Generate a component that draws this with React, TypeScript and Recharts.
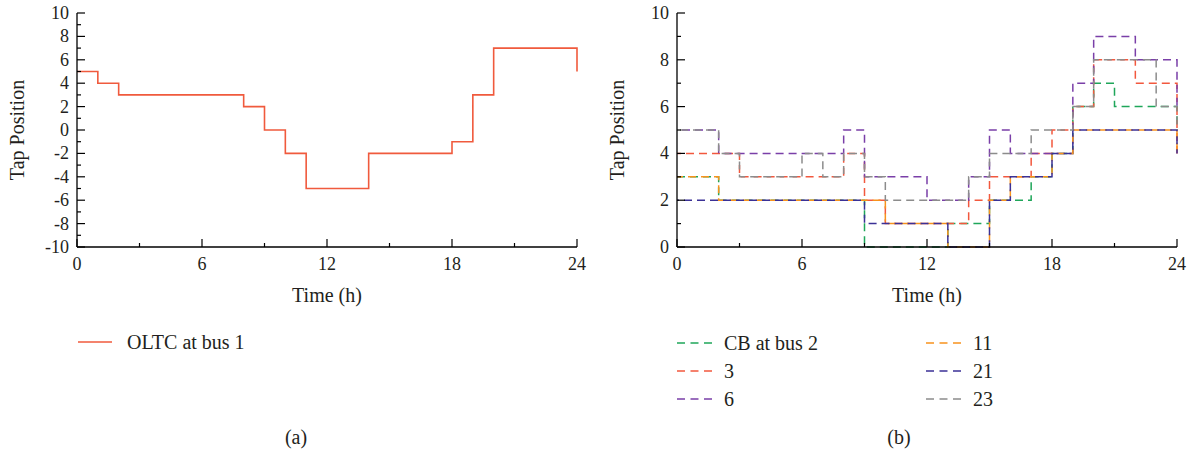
import React from 'react';
import { LineChart, Line, XAxis, YAxis } from 'recharts';

// Hour of day (h)
const HOURS = [0, 1, 2, 3, 4, 5, 6, 7, 8, 9, 10, 11, 12, 13, 14, 15, 16, 17, 18, 19, 20, 21, 22, 23, 24];

// (a) OLTC tap position
const OLTC_BUS1 = [5, 4, 3, 3, 3, 3, 3, 3, 2, 0, -2, -5, -5, -5, -2, -2, -2, -2, -1, 3, 7, 7, 7, 7, 5];

// (b) capacitor bank tap positions
const CB_BUS2 = [3, 3, 2, 2, 2, 2, 2, 2, 2, 0, 0, 0, 0, 1, 1, 2, 2, 3, 4, 6, 7, 6, 6, 6, 5];
const CB_BUS3 = [4, 4, 4, 3, 3, 3, 3, 3, 4, 2, 1, 1, 1, 1, 2, 3, 3, 4, 5, 6, 8, 8, 7, 7, 4];
const CB_BUS6 = [5, 5, 4, 4, 4, 4, 4, 4, 5, 3, 3, 3, 2, 2, 3, 5, 4, 4, 4, 7, 9, 9, 8, 8, 6];
const CB_BUS11 = [3, 3, 2, 2, 2, 2, 2, 2, 2, 2, 1, 1, 1, 0, 0, 2, 3, 3, 4, 5, 5, 5, 5, 5, 4];
const CB_BUS21 = [2, 2, 2, 2, 2, 2, 2, 2, 2, 1, 1, 1, 1, 0, 0, 2, 3, 3, 4, 5, 5, 5, 5, 5, 4];
const CB_BUS23 = [5, 5, 4, 3, 3, 3, 4, 3, 4, 3, 2, 2, 2, 2, 3, 4, 4, 5, 5, 6, 8, 8, 8, 6, 5];

// Axis ticks
const X_TICKS = [0, 3, 6, 9, 12, 15, 18, 21, 24];
const OLTC_Y_TICKS = [-10, -9, -8, -7, -6, -5, -4, -3, -2, -1, 0, 1, 2, 3, 4, 5, 6, 7, 8, 9, 10];
const CB_Y_TICKS = [0, 1, 2, 3, 4, 5, 6, 7, 8, 9, 10];

const FONT = '"Liberation Serif", "Times New Roman", Times, serif';
const INK = '#231f20';
const AXIS = '#000';

const oltcData = HOURS.map((t, i) => ({ t, oltc: OLTC_BUS1[i] }));

const CB_SERIES = [
  { key: 'b2', name: 'CB at bus 2', color: '#1fa65a', values: CB_BUS2, offset: 0 },
  { key: 'b3', name: '3', color: '#f2583e', values: CB_BUS3, offset: 4 },
  { key: 'b6', name: '6', color: '#7a3fa8', values: CB_BUS6, offset: 8 },
  { key: 'b11', name: '11', color: '#f7931e', values: CB_BUS11, offset: 2 },
  { key: 'b21', name: '21', color: '#3b3196', values: CB_BUS21, offset: 6 },
  { key: 'b23', name: '23', color: '#8c8c8c', values: CB_BUS23, offset: 10 },
];

const cbData = HOURS.map((t, i) => {
  const row: Record<string, number> = { t };
  CB_SERIES.forEach((s) => {
    row[s.key] = s.values[i];
  });
  return row;
});

const CHART_W = 600;
const CHART_H = 310;
const MARGIN = { top: 13, right: 23, left: 0, bottom: 0 };
const Y_AXIS_W = 77;
const X_AXIS_H = 63;

// Inward ticks: long on labelled values, short in between
const XTick = (props: any) => {
  const { x, y, payload } = props;
  const major = payload.value % 6 === 0;
  return (
    <g>
      <line x1={x} x2={x} y1={y} y2={y - (major ? 8 : 4)} stroke={AXIS} strokeWidth={1.2} />
      {major && (
        <text x={x} y={y + 23} textAnchor="middle" fontFamily={FONT} fontSize={18} fill={INK}>
          {payload.value}
        </text>
      )}
    </g>
  );
};

const YTick = (props: any) => {
  const { x, y, payload } = props;
  const major = payload.value % 2 === 0;
  return (
    <g>
      <line x1={x} x2={x + (major ? 8 : 4)} y1={y} y2={y} stroke={AXIS} strokeWidth={1.2} />
      {major && (
        <text x={x - 8} y={y + 6} textAnchor="end" fontFamily={FONT} fontSize={18} fill={INK}>
          {payload.value}
        </text>
      )}
    </g>
  );
};

const XTitle = (props: any) => {
  const vb = props.viewBox;
  return (
    <text
      x={vb.x + vb.width / 2}
      y={vb.y + 55}
      textAnchor="middle"
      fontFamily={FONT}
      fontSize={20}
      fill={INK}
    >
      Time (h)
    </text>
  );
};

const YTitle = (props: any) => {
  const vb = props.viewBox;
  const x = vb.x + 24;
  const y = vb.y + vb.height / 2;
  return (
    <text
      x={x}
      y={y}
      transform={`rotate(-90, ${x}, ${y})`}
      textAnchor="middle"
      fontFamily={FONT}
      fontSize={20}
      fill={INK}
    >
      Tap Position
    </text>
  );
};

// Bottom/left axes carry the ticks; top/right axes only close the frame
function axes(yDomain: [number, number], yTicks: number[]) {
  return [
    <XAxis
      key="xb"
      dataKey="t"
      type="number"
      domain={[0, 24]}
      ticks={X_TICKS}
      interval={0}
      height={X_AXIS_H}
      tickSize={0}
      tickMargin={0}
      tickLine={false}
      axisLine={{ stroke: AXIS, strokeWidth: 1.3 }}
      tick={(p: any) => <XTick {...p} />}
      label={(p: any) => <XTitle {...p} />}
    />,
    <XAxis
      key="xt"
      xAxisId="top"
      dataKey="t"
      type="number"
      orientation="top"
      domain={[0, 24]}
      height={0}
      tick={false}
      tickLine={false}
      axisLine={{ stroke: AXIS, strokeWidth: 1.3 }}
    />,
    <YAxis
      key="yl"
      type="number"
      domain={yDomain}
      ticks={yTicks}
      interval={0}
      width={Y_AXIS_W}
      tickSize={0}
      tickMargin={0}
      tickLine={false}
      axisLine={{ stroke: AXIS, strokeWidth: 1.3 }}
      tick={(p: any) => <YTick {...p} />}
      label={(p: any) => <YTitle {...p} />}
    />,
    <YAxis
      key="yr"
      yAxisId="right"
      type="number"
      orientation="right"
      domain={yDomain}
      width={0}
      tick={false}
      tickLine={false}
      axisLine={{ stroke: AXIS, strokeWidth: 1.3 }}
    />,
  ];
}

const Caption = ({ x, text }: { x: number; text: string }) => (
  <text x={x} y={444} textAnchor="middle" fontFamily={FONT} fontSize={20} fill={INK}>
    {text}
  </text>
);

export default function App() {
  return (
    <div style={{ position: 'absolute', left: 0, top: 0, width: 1199, height: 454, background: '#fff' }}>
      <div style={{ position: 'absolute', left: 0, top: 0 }}>
        <LineChart width={CHART_W} height={CHART_H} data={oltcData} margin={MARGIN}>
          {axes([-10, 10], OLTC_Y_TICKS)}
          <Line
            type="stepAfter"
            dataKey="oltc"
            name="OLTC at bus 1"
            stroke="#f05a3d"
            strokeWidth={1.6}
            dot={false}
            activeDot={false}
            isAnimationActive={false}
          />
        </LineChart>
      </div>
      <div style={{ position: 'absolute', left: 600, top: 0 }}>
        <LineChart width={CHART_W} height={CHART_H} data={cbData} margin={MARGIN}>
          {axes([0, 10], CB_Y_TICKS)}
          {CB_SERIES.map((s) => (
            <Line
              key={s.key}
              type="stepAfter"
              dataKey={s.key}
              name={s.name}
              stroke={s.color}
              strokeWidth={1.5}
              strokeDasharray="8 5"
              strokeDashoffset={s.offset}
              dot={false}
              activeDot={false}
              isAnimationActive={false}
            />
          ))}
        </LineChart>
      </div>
      <svg
        width={1199}
        height={144}
        viewBox="0 310 1199 144"
        style={{ position: 'absolute', left: 0, top: 310 }}
      >
        {/* legend (a) */}
        <line x1={78} x2={112} y1={342} y2={342} stroke="#f05a3d" strokeWidth={1.6} />
        <text x={127} y={349} fontFamily={FONT} fontSize={20} fill={INK}>
          OLTC at bus 1
        </text>
        {/* legend (b), two columns of three */}
        {CB_SERIES.map((s, i) => {
          const col = Math.floor(i / 3);
          const row = i % 3;
          const lx = col === 0 ? 677 : 926;
          const ly = 343 + row * 28;
          return (
            <g key={s.key}>
              <line x1={lx} x2={lx + 35} y1={ly} y2={ly} stroke={s.color} strokeWidth={1.5} strokeDasharray="8 5.5" />
              <text x={lx + 47} y={ly + 7} fontFamily={FONT} fontSize={20} fill={INK}>
                {s.name}
              </text>
            </g>
          );
        })}
        <Caption x={296} text="(a)" />
        <Caption x={899} text="(b)" />
      </svg>
    </div>
  );
}
